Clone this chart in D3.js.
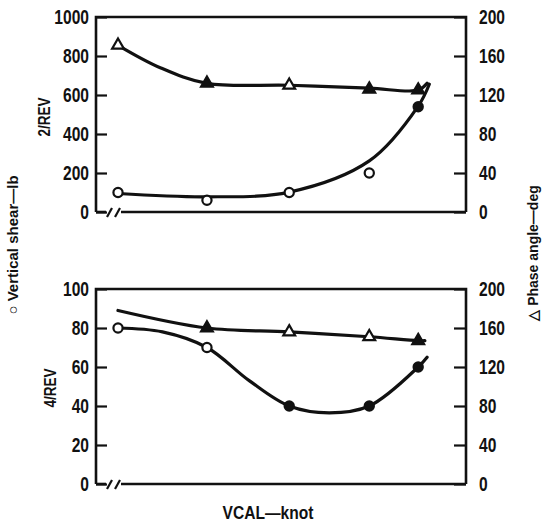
<!DOCTYPE html>
<html><head><meta charset="utf-8">
<script src="https://cdn.jsdelivr.net/npm/d3@7"></script>
<style>body{margin:0;background:#fff}</style>
</head><body><svg id="c" width="547" height="526"></svg>
<script>
// ---- data ----
const speeds = [60, 100, 137, 173, 195];           // VCAL (knot, approximate positions)
const leftTicksTop = [0, 200, 400, 600, 800, 1000];
const leftTicksBot = [0, 20, 40, 60, 80, 100];
const rightTicks = [0, 40, 80, 120, 160, 200];

// 2/REV panel
const top2Shear = [100, 60, 100, 200, 540];        // vertical shear, lb (circles)
const top2Phase = [171, 132, 130, 126, 125];       // phase angle, deg (triangles)
const top2ShearFilled = [0, 0, 0, 0, 1];
const top2PhaseFilled = [0, 1, 0, 1, 1];
const top2ShearFit = [[60, 95], [100, 78], [137, 102], [173, 262], [195, 543], [200, 655]];
const top2PhaseFit = [[60, 171], [79, 148], [100, 132], [137, 130], [173, 127], [195, 125], [199, 132]];

// 4/REV panel
const bot4Shear = [80, 70, 40, 40, 60];
const bot4Phase = [null, 160, 156, 151, 147];
const bot4ShearFilled = [0, 0, 1, 1, 1];
const bot4PhaseFilled = [0, 1, 0, 0, 1];
const bot4ShearFit = [[60, 80], [80, 78], [100, 70], [119, 53], [137, 40], [155, 36.5], [173, 40], [195, 60], [199, 65]];
const bot4PhaseFit = [[60, 178], [100, 160], [137, 156], [173, 151], [195, 147], [198, 147]];

// ---- drawing ----
const svg = d3.select("#c");
const L = 96, R = 466;
const x = d3.scaleLinear().domain([50.1, 216.5]).range([L, R]);
const tickFont = "'Liberation Sans', Arial, sans-serif";
const SX = 0.78;

function panel(cfg) {
  const yL = d3.scaleLinear().domain([0, cfg.lmax]).range([cfg.bottom, cfg.top]);
  const yR = d3.scaleLinear().domain([0, 200]).range([cfg.bottom, cfg.top]);
  const g = svg.append("g");

  const axL = g.append("g").attr("transform", `translate(${L},0)`)
    .call(d3.axisLeft(yL).tickValues(cfg.lticks).tickFormat(d3.format("d")).tickSizeInner(-11).tickSizeOuter(0).tickPadding(7));
  const axR = g.append("g").attr("transform", `translate(${R},0)`)
    .call(d3.axisRight(yR).tickValues(rightTicks).tickFormat(d3.format("d")).tickSizeInner(-12).tickSizeOuter(0).tickPadding(13));
  [axL, axR].forEach(a => {
    a.select(".domain").remove();
    a.selectAll("line").attr("stroke", "#111").attr("stroke-width", 2.2);
    a.selectAll("text").attr("font-family", tickFont).attr("font-weight", "bold")
      .attr("font-size", 20).attr("fill", "#111")
      .attr("x", function () { return +d3.select(this).attr("x") / SX; })
      .attr("transform", `scale(${SX},1)`);
  });

  // frame
  const fr = g.append("g").attr("stroke", "#111").attr("stroke-width", 2.6).attr("fill", "none");
  fr.append("path").attr("d", `M${L},${cfg.bottom}V${cfg.top}H${R}V${cfg.bottom}`);
  fr.append("path").attr("d", `M${L},${cfg.bottom}H${L + 10}`);
  fr.append("path").attr("d", `M${L + 25},${cfg.bottom}H${R}`);
  fr.append("path").attr("d", `M${L + 11},${cfg.bottom + 5}L${L + 16},${cfg.bottom - 4}`).attr("stroke-width", 2.2);
  fr.append("path").attr("d", `M${L + 19},${cfg.bottom + 5}L${L + 24},${cfg.bottom - 4}`).attr("stroke-width", 2.2);

  const line = (ys) => d3.line().x(d => x(d[0])).y(d => ys(d[1])).curve(d3.curveCatmullRom.alpha(0.5));
  g.append("path").datum(cfg.shearFit).attr("d", line(yL)).attr("fill", "none")
    .attr("stroke", "#111").attr("stroke-width", 3.2).attr("stroke-linecap", "round");
  g.append("path").datum(cfg.phaseFit).attr("d", line(yR)).attr("fill", "none")
    .attr("stroke", "#111").attr("stroke-width", 3.2).attr("stroke-linecap", "round");

  // markers
  speeds.forEach((s, i) => {
    if (cfg.shear[i] != null) {
      g.append("circle").attr("cx", x(s)).attr("cy", yL(cfg.shear[i])).attr("r", 4.6)
        .attr("fill", cfg.shearFilled[i] ? "#111" : "#fff").attr("stroke", "#111").attr("stroke-width", 2.2);
    }
    if (cfg.phase[i] != null) {
      g.append("path").attr("d", d3.symbol(d3.symbolTriangle, 60)())
        .attr("transform", `translate(${x(s)},${yR(cfg.phase[i])})`)
        .attr("fill", cfg.phaseFilled[i] ? "#111" : "#fff").attr("stroke", "#111").attr("stroke-width", 2.2);
    }
  });

  g.append("text").attr("transform", `translate(${cfg.labX},${cfg.labY}) rotate(-90) scale(0.85,1)`)
    .attr("text-anchor", "middle").attr("dy", "0.35em")
    .attr("font-family", tickFont).attr("font-weight", "bold").attr("font-size", 16)
    .attr("fill", "#111").text(cfg.label);
}

panel({ top: 17, bottom: 212, lmax: 1000, lticks: leftTicksTop,
  shear: top2Shear, phase: top2Phase, shearFilled: top2ShearFilled, phaseFilled: top2PhaseFilled,
  shearFit: top2ShearFit, phaseFit: top2PhaseFit, label: "2/REV", labX: 44, labY: 117 });
panel({ top: 289, bottom: 484, lmax: 100, lticks: leftTicksBot,
  shear: bot4Shear, phase: bot4Phase, shearFilled: bot4ShearFilled, phaseFilled: bot4PhaseFilled,
  shearFit: bot4ShearFit, phaseFit: bot4PhaseFit, label: "4/REV", labX: 50, labY: 388 });

svg.append("text").attr("transform", "translate(13,245) rotate(-90)")
  .attr("text-anchor", "middle").attr("dy", "0.35em")
  .attr("font-family", "'Liberation Sans', sans-serif").attr("font-weight", "bold").attr("font-size", 15)
  .attr("fill", "#111").text("○ Vertical shear—lb");
svg.append("text").attr("transform", "translate(533,253) rotate(-90)")
  .attr("text-anchor", "middle").attr("dy", "0.35em")
  .attr("font-family", "'Liberation Sans', sans-serif").attr("font-weight", "bold").attr("font-size", 14)
  .attr("fill", "#111").text("△ Phase angle—deg");
svg.append("text").attr("transform", "translate(268,512) scale(0.82,1)").attr("dy", "0.35em")
  .attr("text-anchor", "middle").attr("font-family", tickFont).attr("font-weight", "bold")
  .attr("font-size", 19).attr("fill", "#111").text("VCAL—knot");
</script></body></html>
